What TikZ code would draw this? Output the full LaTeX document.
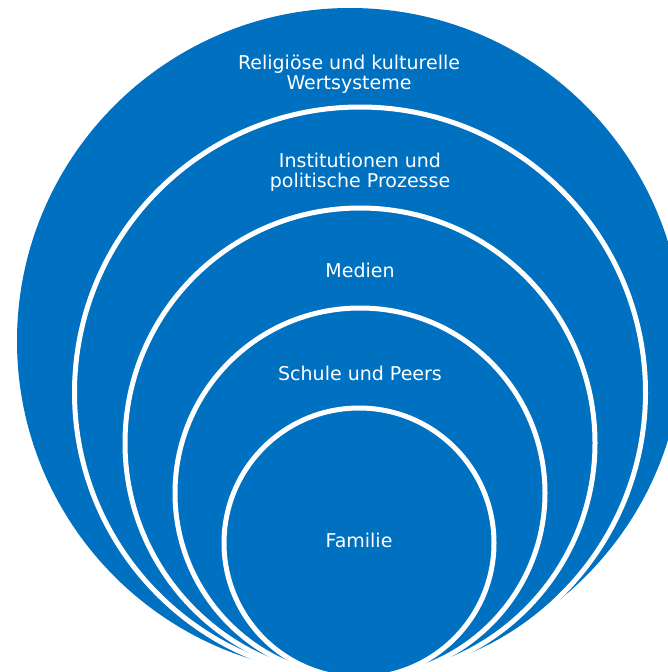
\documentclass[tikz,border=0pt]{standalone}
\usepackage{fontspec}
\setmainfont{DejaVu Sans}
\definecolor{ringblue}{RGB}{0,112,192}
\begin{document}
\begin{tikzpicture}[x=1pt,y=-1pt,
  ring/.style={circle, fill=ringblue, draw=white, line width=5pt, inner sep=0pt},
  lbl/.style={text=white, font=\fontsize{19}{20}\selectfont, align=center, inner sep=0pt, anchor=base}]
\path[use as bounding box] (0,0) rectangle (668,672);
\clip (0,0) rectangle (668,672);
\fill[white] (0,0) rectangle (668,672);
\node[ring, draw=none, minimum size=666pt] (c1) at (350,341) {};
\node[ring, minimum size=571pt] (c2) at (360,392.5) {};
\node[ring, minimum size=470pt] (c3) at (360,443) {};
\node[ring, minimum size=370pt] (c4) at (360,493) {};
\node[ring, minimum size=270pt] (c5) at (359,543) {};
\node[lbl] (t1) at (349,89) {Religiöse und kulturelle\\Wertsysteme};
\node[lbl] (t2) at (360,187.7) {Institutionen und\\politische Prozesse};
\node[lbl] (t3) at (360,277) {Medien};
\node[lbl] (t4) at (360,380) {Schule und Peers};
\node[lbl] (t5) at (359,547.5) {Familie};
\end{tikzpicture}
\end{document}
